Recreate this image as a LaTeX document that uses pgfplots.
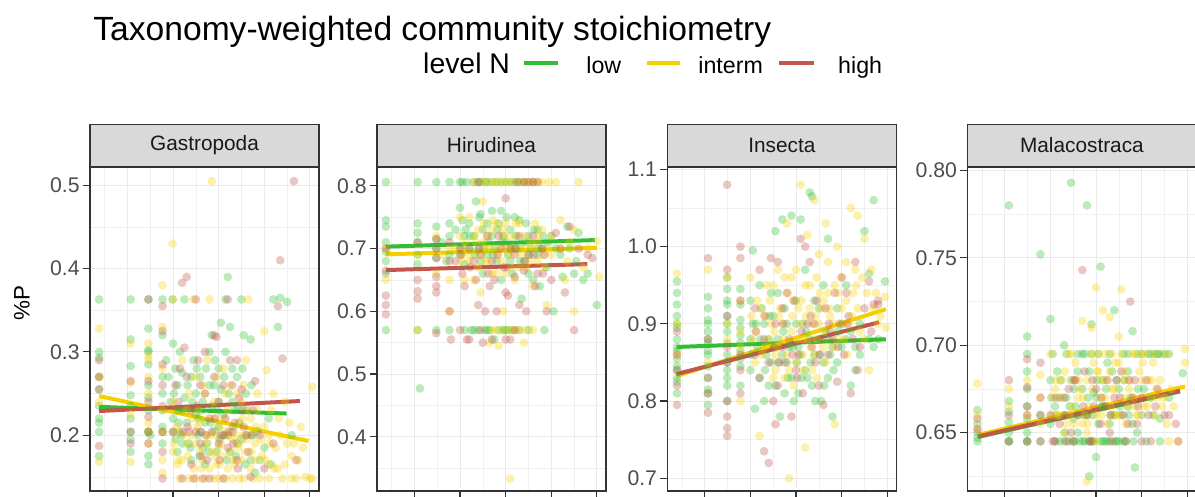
\documentclass[border=0pt]{standalone}
\usepackage{fontspec}
\setmainfont{Liberation Sans}
\usepackage{pgfplots}
\pgfplotsset{compat=1.18}

\definecolor{lowc}{RGB}{50,190,50}
\definecolor{intc}{RGB}{245,208,0}
\definecolor{highc}{RGB}{195,85,75}
\definecolor{stripc}{RGB}{217,217,217}
\definecolor{framec}{RGB}{51,51,51}
\definecolor{tickc}{RGB}{77,77,77}

\pgfplotsset{
  facet/.style={
    scale only axis, width=114.5pt, height=162pt,
    xmin=0.18, xmax=5.2,
    xtick={1,2,3,4,5}, xticklabels={},
    minor xtick={0.5,1.5,2.5,3.5,4.5},
    grid=both,
    major grid style={draw=black!8, line width=0.5pt},
    minor grid style={draw=black!6, line width=0.3pt},
    axis line style={draw=framec, line width=0.7pt},
    tick style={draw=framec, line width=0.6pt},
    major tick length=3.5pt, minor tick length=0pt,
    tick align=outside, xtick pos=bottom, ytick pos=left,
    yticklabel style={font=\fontsize{10.6}{12}\selectfont, text=tickc, inner sep=1.5pt},
    every axis title shift=0pt,
    title style={at={(0.5,1)}, anchor=south, draw=framec, line width=0.7pt,
      fill=stripc, minimum width=114.5pt, minimum height=21pt, inner sep=0pt,
      font=\fontsize{10.4}{12}\selectfont, text=black!90},
  },
  pts/.style={only marks, mark=*, mark size=2.2pt,
    mark options={draw opacity=0, fill=#1, fill opacity=0.33}},
  fit/.style={no marks, #1, line width=2pt},
}

\begin{document}
\begin{tikzpicture}

% ---------------- Gastropoda
\begin{axis}[facet, at={(45pt,3pt)}, anchor=south west, title={Gastropoda},
  ymin=0.133, ymax=0.522, ytick={0.2,0.3,0.4,0.5}, yticklabels={0.2,0.3,0.4,0.5},
  minor ytick={0.15,0.25,0.35,0.45}]
\addplot[pts=lowc] coordinates {
(0.38,0.363)(0.38,0.30)(0.38,0.293)(0.38,0.255)(0.38,0.235)(0.38,0.215)(0.38,0.204)(0.38,0.175)
(1.07,0.363)(1.07,0.315)(1.07,0.283)(1.07,0.248)(1.07,0.22)(1.07,0.204)(1.07,0.195)(1.07,0.18)
(1.46,0.363)(1.46,0.328)(1.46,0.302)(1.46,0.30)(1.46,0.285)(1.46,0.26)(1.46,0.23)(1.46,0.204)(1.46,0.165)
(1.77,0.363)(1.77,0.32)(1.77,0.25)(1.77,0.21)(1.77,0.19)
(1.99,0.363)(2.0,0.31)(2.05,0.28)(2.1,0.26)(2.1,0.23)(2.15,0.204)(2.2,0.19)(2.25,0.363)
(2.4,0.27)(2.5,0.25)(2.55,0.22)(2.6,0.204)(2.65,0.185)(2.7,0.165)(2.8,0.3)(2.85,0.32)
(2.9,0.26)(3.0,0.24)(3.0,0.21)(3.05,0.335)(3.1,0.2)(3.15,0.363)(3.2,0.39)(3.25,0.33)(3.3,0.28)
(3.35,0.23)(3.4,0.19)(3.5,0.363)(3.55,0.32)(3.6,0.25)(3.7,0.315)(3.75,0.2)(3.8,0.155)(3.9,0.17)
(4.1,0.22)(4.2,0.363)(4.3,0.33)(4.35,0.365)(4.5,0.36)(4.6,0.2)
(1.85,0.29)(1.9,0.27)(1.95,0.24)(2.0,0.22)(2.05,0.195)(2.1,0.18)(2.15,0.3)(2.2,0.275)(2.25,0.245)
(2.3,0.215)(2.35,0.19)(2.4,0.17)(2.45,0.29)(2.5,0.225)(2.55,0.2)(2.6,0.27)(2.65,0.24)(2.7,0.215)
(2.75,0.19)(2.8,0.26)(2.85,0.235)(2.9,0.205)(2.95,0.18)(3.0,0.28)(3.05,0.255)(3.1,0.225)(3.15,0.3)
(3.2,0.2)(3.25,0.18)(3.3,0.24)(3.4,0.27)(3.45,0.215)(3.5,0.195)(3.6,0.23)(3.7,0.17)(3.85,0.205)
(4.0,0.185)(4.15,0.165)(1.5,0.2)(1.77,0.23)(1.46,0.245)(1.07,0.235)(0.38,0.22)(0.38,0.27)(1.46,0.175)
(2.02,0.25)(2.12,0.215)(2.22,0.23)(2.32,0.26)(2.42,0.24)(2.52,0.28)(2.62,0.23)(2.72,0.28)(2.82,0.215)
(2.92,0.29)(3.02,0.195)(3.12,0.27)(3.22,0.25)(3.32,0.21)(3.42,0.235)(3.52,0.28)(3.62,0.2)(3.72,0.26)
(2.18,0.2)(2.38,0.185)(2.58,0.175)(2.78,0.18)(2.98,0.23)(3.18,0.17)(3.38,0.175)(3.58,0.165)
(1.77,0.27)(1.46,0.204)(1.77,0.204)(2.0,0.204)
};
\addplot[pts=intc] coordinates {
(0.38,0.328)(0.38,0.27)(0.38,0.24)(0.38,0.168)
(1.07,0.31)(1.07,0.263)(1.07,0.225)(1.07,0.168)
(1.46,0.31)(1.46,0.295)(1.46,0.29)(1.46,0.25)(1.46,0.215)(1.46,0.19)(1.46,0.205)
(1.77,0.38)(1.77,0.33)(1.77,0.28)(1.77,0.204)(1.77,0.17)(1.77,0.155)
(1.99,0.43)(2.0,0.363)(2.0,0.24)(2.05,0.204)(2.1,0.165)(2.2,0.29)(2.3,0.19)(2.35,0.148)
(2.45,0.363)(2.5,0.27)(2.55,0.23)(2.6,0.18)(2.7,0.148)(2.75,0.29)(2.8,0.363)
(2.85,0.505)(2.9,0.22)(2.95,0.2)(3.0,0.185)(3.0,0.148)(3.1,0.28)(3.15,0.25)(3.2,0.16)
(3.3,0.148)(3.35,0.21)(3.4,0.2)(3.45,0.19)(3.5,0.24)(3.55,0.148)(3.6,0.29)(3.65,0.363)
(3.7,0.22)(3.8,0.17)(3.9,0.148)(4.0,0.325)(4.05,0.278)(4.1,0.2)(4.2,0.25)(4.3,0.16)
(4.4,0.148)(4.45,0.24)(4.5,0.19)(4.6,0.175)(4.7,0.148)(4.8,0.21)(4.9,0.15)(5.05,0.258)(5.05,0.148)
(2.0,0.18)(2.1,0.21)(2.2,0.17)(2.3,0.23)(2.4,0.2)(2.45,0.16)(2.5,0.19)(2.6,0.215)(2.65,0.17)
(2.7,0.25)(2.75,0.2)(2.8,0.16)(2.85,0.18)(2.9,0.24)(2.95,0.165)(3.0,0.21)(3.05,0.19)(3.1,0.175)
(3.15,0.205)(3.2,0.23)(3.25,0.18)(3.3,0.195)(3.35,0.165)(3.4,0.25)(3.45,0.215)(3.5,0.17)(3.55,0.2)
(3.6,0.18)(3.65,0.23)(3.7,0.16)(3.75,0.205)(3.8,0.19)(3.85,0.25)(3.95,0.175)(4.0,0.21)(4.1,0.165)
(4.15,0.23)(4.25,0.185)(4.35,0.2)(4.45,0.165)(4.55,0.215)(4.65,0.19)(4.75,0.17)(4.85,0.185)(5.0,0.148)
(1.77,0.23)(1.46,0.27)(2.15,0.148)(2.5,0.148)(2.9,0.148)(3.15,0.148)(3.45,0.148)(3.75,0.148)(4.1,0.148)(4.6,0.148)
(2.02,0.19)(2.12,0.17)(2.22,0.2)(2.32,0.175)(2.42,0.22)(2.52,0.21)(2.62,0.16)(2.72,0.19)(2.82,0.2)
(2.92,0.175)(3.02,0.165)(3.12,0.22)(3.22,0.2)(3.32,0.17)(3.42,0.185)(3.52,0.22)(3.62,0.195)(3.72,0.18)
(3.82,0.21)(3.92,0.195)(4.02,0.17)(4.12,0.19)(4.22,0.16)(4.32,0.22)(2.35,0.25)(2.65,0.26)(2.95,0.27)
(3.25,0.26)(3.55,0.26)(3.85,0.23)
};
\addplot[pts=highc] coordinates {
(0.38,0.29)(0.38,0.27)(0.38,0.255)(0.38,0.187)
(1.07,0.265)(1.07,0.204)(1.07,0.19)
(1.46,0.363)(1.46,0.265)(1.46,0.24)(1.46,0.204)(1.46,0.19)
(1.77,0.355)(1.77,0.325)(1.77,0.285)(1.77,0.26)(1.77,0.204)(1.77,0.18)(1.77,0.148)
(2.2,0.383)(2.3,0.39)(2.25,0.305)(2.3,0.27)(2.35,0.204)(2.4,0.165)(2.5,0.363)
(2.55,0.29)(2.6,0.26)(2.65,0.148)(2.7,0.3)(2.8,0.22)(2.9,0.32)(2.95,0.318)(3.0,0.24)
(3.05,0.2)(3.1,0.148)(3.2,0.363)(3.25,0.29)(3.3,0.26)(3.35,0.215)(3.4,0.17)
(3.5,0.255)(3.6,0.2)(3.7,0.15)(3.8,0.265)(4.3,0.355)(4.35,0.41)(4.4,0.292)(4.65,0.505)(4.7,0.17)
(2.0,0.204)(2.05,0.26)(2.15,0.28)(2.4,0.23)(2.5,0.204)(2.6,0.19)(2.7,0.25)(2.75,0.17)(2.85,0.204)
(2.9,0.27)(3.0,0.19)(3.1,0.26)(3.15,0.22)(3.2,0.185)(3.3,0.204)(3.4,0.29)(3.45,0.245)(3.55,0.21)
(3.65,0.18)(3.75,0.23)(3.9,0.2)(4.0,0.16)(4.2,0.19)(1.46,0.222)(1.77,0.235)(2.2,0.148)(2.45,0.148)(2.8,0.148)
(2.12,0.24)(2.32,0.21)(2.52,0.235)(2.72,0.2)(2.92,0.22)(3.12,0.2)(3.32,0.19)(3.52,0.23)(3.72,0.2)
(2.62,0.175)(3.02,0.17)(3.42,0.16)(2.22,0.204)(2.62,0.204)(3.22,0.204)
};
\addplot[fit=lowc] coordinates {(0.38,0.234)(4.49,0.226)};
\addplot[fit=intc] coordinates {(0.38,0.247)(4.97,0.193)};
\addplot[fit=highc] coordinates {(0.38,0.229)(4.78,0.241)};
\end{axis}

% ---------------- Hirudinea
\begin{axis}[facet, at={(188.5pt,3pt)}, anchor=south west, title={Hirudinea},
  ymin=0.3135, ymax=0.83, ytick={0.4,0.5,0.6,0.7,0.8}, yticklabels={0.4,0.5,0.6,0.7,0.8},
  minor ytick={0.35,0.45,0.55,0.65,0.75}]
\addplot[pts=lowc] coordinates {
(0.375,0.806)(0.375,0.745)(0.375,0.735)(0.375,0.71)(0.375,0.695)(0.375,0.68)(0.375,0.66)(0.375,0.57)
(1.07,0.806)(1.07,0.74)(1.07,0.725)(1.07,0.71)(1.07,0.69)(1.07,0.675)(1.07,0.57)(1.12,0.477)
(1.48,0.806)(1.48,0.735)(1.48,0.715)(1.48,0.70)(1.48,0.685)(1.48,0.57)
(1.77,0.806)(1.77,0.74)(1.77,0.72)(1.77,0.69)(1.77,0.57)
(2.0,0.806)(2.0,0.765)(2.05,0.745)(2.1,0.72)(2.15,0.806)(2.2,0.7)(2.25,0.57)
(2.35,0.775)(2.4,0.806)(2.45,0.755)(2.5,0.73)(2.55,0.806)(2.6,0.69)(2.65,0.57)(2.7,0.76)
(2.75,0.555)(2.8,0.806)(2.85,0.74)(2.9,0.65)(2.95,0.72)(3.0,0.806)(3.05,0.57)(3.1,0.68)
(3.2,0.75)(3.3,0.7)(3.35,0.62)(3.45,0.74)(3.5,0.66)(3.6,0.806)(3.7,0.69)(3.75,0.64)
(3.85,0.57)(4.0,0.72)(4.05,0.6)(4.2,0.69)(4.35,0.735)(4.5,0.66)(4.6,0.725)(4.7,0.65)(5.0,0.61)
(1.6,0.71)(1.7,0.68)(1.9,0.73)(2.0,0.69)(2.1,0.675)(2.2,0.74)(2.3,0.72)(2.4,0.7)(2.45,0.68)
(2.5,0.66)(2.6,0.74)(2.7,0.72)(2.75,0.7)(2.8,0.68)(2.9,0.76)(3.0,0.71)(3.05,0.69)(3.1,0.73)
(3.15,0.66)(3.2,0.7)(3.3,0.745)(3.4,0.68)(3.5,0.72)(3.55,0.7)(3.6,0.65)(3.7,0.73)(3.8,0.7)
(3.9,0.67)(4.1,0.7)(4.25,0.655)(4.4,0.7)(4.55,0.68)(4.8,0.66)(2.3,0.806)(2.6,0.806)(2.9,0.806)
(3.2,0.806)(3.4,0.806)(2.4,0.57)(2.55,0.57)(2.85,0.57)(3.0,0.57)(3.3,0.57)(3.5,0.57)
(2.02,0.7)(2.12,0.73)(2.22,0.72)(2.32,0.69)(2.42,0.75)(2.52,0.7)(2.62,0.71)(2.72,0.69)(2.82,0.73)
(2.92,0.71)(3.02,0.75)(3.12,0.7)(3.22,0.72)(3.32,0.68)(3.42,0.71)(3.52,0.69)(3.62,0.73)(3.72,0.7)
(3.82,0.72)(3.92,0.71)(2.05,0.806)(2.45,0.806)(2.7,0.806)(3.1,0.806)(3.3,0.806)(2.1,0.57)(2.3,0.57)
(2.6,0.57)(2.95,0.57)(3.15,0.57)
};
\addplot[pts=intc] coordinates {
(0.375,0.7)(0.375,0.65)(1.07,0.57)(1.07,0.69)(1.48,0.72)(1.48,0.66)(1.77,0.7)(1.77,0.65)(1.77,0.6)
(2.0,0.72)(2.05,0.69)(2.1,0.65)(2.2,0.75)(2.3,0.806)(2.35,0.71)(2.4,0.67)(2.45,0.63)(2.5,0.775)
(2.55,0.7)(2.6,0.68)(2.65,0.55)(2.7,0.73)(2.75,0.806)(2.8,0.66)(2.85,0.545)(2.9,0.7)
(2.95,0.6)(3.0,0.74)(3.05,0.806)(3.1,0.69)(3.2,0.57)(3.25,0.72)(3.3,0.67)(3.4,0.55)(3.45,0.7)
(3.5,0.806)(3.6,0.64)(3.65,0.74)(3.7,0.71)(3.85,0.67)(3.9,0.61)(4.0,0.69)(4.1,0.806)(4.2,0.745)
(4.3,0.65)(4.4,0.71)(4.5,0.6)(4.6,0.806)(4.8,0.7)(5.0,0.712)(5.05,0.655)(3.1,0.333)
(1.6,0.69)(1.9,0.7)(2.0,0.75)(2.1,0.7)(2.2,0.68)(2.3,0.65)(2.4,0.73)(2.5,0.71)(2.55,0.68)
(2.6,0.72)(2.7,0.66)(2.75,0.7)(2.8,0.74)(2.9,0.68)(2.95,0.72)(3.0,0.66)(3.1,0.72)(3.15,0.7)
(3.2,0.65)(3.3,0.74)(3.35,0.69)(3.45,0.67)(3.55,0.71)(3.7,0.68)(3.8,0.73)(4.0,0.72)(4.2,0.7)
(4.35,0.68)(4.5,0.73)(4.7,0.67)(2.5,0.806)(2.8,0.806)(3.3,0.806)(3.8,0.806)(2.7,0.57)(2.95,0.57)
(3.3,0.57)(3.6,0.57)
(2.02,0.68)(2.12,0.71)(2.22,0.69)(2.32,0.72)(2.42,0.69)(2.52,0.74)(2.62,0.7)(2.72,0.745)(2.82,0.69)
(2.92,0.73)(3.02,0.7)(3.12,0.67)(3.22,0.74)(3.32,0.7)(3.42,0.72)(3.52,0.68)(3.62,0.7)(3.72,0.72)
(3.82,0.69)(3.92,0.7)(2.6,0.806)(2.95,0.806)(3.15,0.806)(3.45,0.806)(3.6,0.806)(3.7,0.806)(3.95,0.806)
(2.8,0.57)(3.1,0.57)(3.45,0.57)
};
\addplot[pts=highc] coordinates {
(0.375,0.665)(0.375,0.625)(0.375,0.61)(0.375,0.595)(0.375,0.7)
(1.07,0.71)(1.07,0.65)(1.07,0.632)(1.07,0.62)
(1.48,0.715)(1.48,0.7)(1.48,0.685)(1.48,0.655)(1.48,0.64)(1.48,0.63)(1.48,0.565)
(1.77,0.71)(1.77,0.68)(1.77,0.6)(1.8,0.555)
(2.0,0.7)(2.1,0.64)(2.15,0.555)(2.3,0.68)(2.4,0.61)(2.5,0.55)(2.6,0.72)(2.65,0.64)
(2.8,0.6)(2.9,0.7)(3.0,0.78)(3.05,0.625)(3.1,0.555)(3.2,0.69)(3.3,0.61)(3.4,0.665)
(3.6,0.72)(3.65,0.64)(3.7,0.806)(3.8,0.7)(3.9,0.6)(4.1,0.725)(4.3,0.63)(4.4,0.735)(4.5,0.57)
(4.8,0.69)(4.9,0.685)
(1.9,0.68)(2.05,0.66)(2.2,0.7)(2.35,0.65)(2.45,0.69)(2.55,0.6)(2.7,0.68)(2.75,0.65)(2.85,0.72)
(2.95,0.67)(3.0,0.63)(3.1,0.7)(3.2,0.655)(3.3,0.72)(3.45,0.6)(3.5,0.69)(3.7,0.66)(3.85,0.69)
(4.0,0.65)(4.2,0.7)(4.6,0.7)(2.0,0.57)(2.2,0.555)(2.7,0.555)(3.2,0.57)(3.4,0.806)(3.5,0.806)
(2.02,0.69)(2.22,0.67)(2.42,0.7)(2.62,0.66)(2.82,0.69)(3.02,0.67)(3.22,0.7)(3.42,0.68)(3.62,0.69)
(3.82,0.66)(2.4,0.806)(3.25,0.806)(3.6,0.806)(2.45,0.57)(3.0,0.555)
};
\addplot[fit=lowc] coordinates {(0.375,0.703)(4.96,0.7135)};
\addplot[fit=intc] coordinates {(0.375,0.6907)(5.0,0.7012)};
\addplot[fit=highc] coordinates {(0.375,0.6657)(4.79,0.6752)};
\end{axis}

% ---------------- Insecta
\begin{axis}[facet, at={(333.7pt,3pt)}, anchor=south west, title={Insecta},
  ymin=0.6836, ymax=1.103, ytick={0.7,0.8,0.9,1.0,1.1}, yticklabels={0.7,0.8,0.9,1.0,1.1},
  minor ytick={0.75,0.85,0.95,1.05}]
\addplot[pts=lowc] coordinates {
(0.39,0.955)(0.39,0.94)(0.39,0.925)(0.39,0.91)(0.39,0.895)(0.39,0.88)(0.39,0.87)(0.39,0.855)(0.39,0.84)(0.39,0.825)(0.39,0.81)
(1.07,0.935)(1.07,0.92)(1.07,0.905)(1.07,0.89)(1.07,0.875)(1.07,0.86)(1.07,0.845)(1.07,0.83)(1.07,0.815)(1.07,0.795)
(1.49,0.96)(1.49,0.945)(1.49,0.925)(1.49,0.91)(1.49,0.89)(1.49,0.875)(1.49,0.86)(1.49,0.84)(1.49,0.82)(1.49,0.80)
(1.78,0.945)(1.78,0.925)(1.78,0.905)(1.78,0.885)(1.78,0.865)(1.78,0.845)(1.78,0.82)
(2.0,0.93)(2.0,0.88)(2.0,0.84)(2.05,0.995)(2.1,0.79)(2.2,0.95)(2.3,0.9)(2.35,0.86)(2.4,0.82)
(2.45,0.94)(2.55,1.02)(2.6,0.88)(2.65,0.78)(2.7,1.035)(2.75,0.92)(2.8,0.85)(2.9,1.04)(2.95,0.8)
(3.0,0.9)(3.05,0.87)(3.1,1.035)(3.2,0.97)(3.25,0.83)(3.3,1.07)(3.35,1.065)(3.4,0.93)(3.5,0.88)
(3.55,0.8)(3.6,0.95)(3.7,1.01)(3.75,0.86)(3.8,0.78)(3.9,0.92)(4.0,0.87)(4.1,0.95)(4.2,0.89)
(4.3,0.84)(4.4,0.9)(4.5,1.02)(4.6,0.965)(4.7,1.06)(4.8,0.88)(4.95,0.955)
(2.05,0.9)(2.15,0.87)(2.2,0.83)(2.25,0.92)(2.3,0.8)(2.4,0.88)(2.45,0.85)(2.5,0.91)(2.55,0.82)
(2.6,0.94)(2.7,0.86)(2.75,0.81)(2.8,0.9)(2.85,0.87)(2.9,0.83)(3.0,0.93)(3.05,0.81)(3.1,0.86)
(3.15,0.9)(3.2,0.84)(3.3,0.88)(3.35,0.82)(3.4,0.86)(3.5,0.92)(3.6,0.85)(3.65,0.89)(3.7,0.83)
(3.8,0.87)(3.9,0.85)(4.0,0.9)(4.1,0.88)(4.2,0.82)(4.3,0.87)(4.4,0.86)(4.6,0.88)(4.7,0.87)
(1.07,0.9)(1.49,0.93)(1.78,0.895)(0.39,0.9)(0.39,0.83)
(2.02,0.86)(2.12,0.9)(2.22,0.88)(2.32,0.84)(2.42,0.91)(2.52,0.87)(2.62,0.85)(2.72,0.89)(2.82,0.83)
(2.92,0.87)(3.02,0.85)(3.12,0.83)(3.22,0.89)(3.32,0.85)(3.42,0.8)(3.52,0.86)(3.62,0.82)(3.72,0.88)
(3.82,0.84)(3.92,0.89)(0.39,0.865)(0.39,0.845)(1.07,0.88)(1.07,0.865)(1.49,0.85)(1.49,0.9)(1.78,0.875)
(1.78,0.855)(1.07,0.81)(1.49,0.83)
};
\addplot[pts=intc] coordinates {
(0.39,0.965)(0.39,0.9)(0.39,0.86)(1.07,0.97)(1.07,0.85)(1.49,0.96)(1.49,0.88)(1.78,0.93)(1.78,0.87)(1.78,0.8)
(2.0,0.96)(2.1,0.85)(2.2,0.755)(2.3,0.91)(2.4,0.88)(2.5,0.95)(2.55,0.84)(2.6,0.97)(2.7,0.9)
(2.75,0.83)(2.8,1.03)(2.85,0.7)(2.9,0.96)(3.0,0.85)(3.05,0.92)(3.1,1.08)(3.15,0.88)(3.2,0.74)
(3.25,1.015)(3.3,0.95)(3.35,0.9)(3.4,1.06)(3.45,0.83)(3.5,0.99)(3.55,0.92)(3.6,0.87)(3.65,1.03)
(3.7,0.94)(3.8,0.9)(3.85,0.77)(3.9,1.0)(4.0,0.96)(4.05,0.88)(4.1,0.93)(4.2,1.05)(4.3,0.97)
(4.35,1.04)(4.4,0.89)(4.5,1.01)(4.55,0.94)(4.6,0.84)(4.7,0.92)(4.8,0.9)(4.95,0.935)(4.97,0.895)
(2.05,0.88)(2.15,0.93)(2.25,0.86)(2.35,0.95)(2.45,0.9)(2.5,0.83)(2.6,0.87)(2.65,0.92)(2.75,0.96)
(2.8,0.86)(2.9,0.89)(2.95,0.93)(3.0,0.97)(3.1,0.9)(3.15,0.84)(3.2,0.95)(3.25,0.88)(3.3,0.92)
(3.4,0.86)(3.45,0.96)(3.5,0.9)(3.6,0.93)(3.65,0.85)(3.7,0.98)(3.75,0.91)(3.85,0.95)(3.9,0.88)
(4.0,0.92)(4.1,0.98)(4.15,0.9)(4.25,0.94)(4.35,0.92)(4.45,0.96)(4.5,0.88)(4.65,0.97)(4.75,0.94)
(4.85,0.91)(1.49,0.9)(1.78,0.89)
(2.02,0.91)(2.12,0.89)(2.22,0.92)(2.32,0.87)(2.42,0.93)(2.52,0.89)(2.62,0.91)(2.72,0.88)(2.82,0.94)
(2.92,0.91)(3.02,0.88)(3.12,0.93)(3.22,0.91)(3.32,0.87)(3.42,0.91)(3.52,0.94)(3.62,0.89)(3.72,0.92)
(3.82,0.87)(3.92,0.94)(4.02,0.9)(4.12,0.86)(4.22,0.91)(4.32,0.95)(2.55,0.86)(2.85,0.84)(3.15,0.86)
(3.45,0.88)(2.95,0.82)(3.35,0.84)
};
\addplot[pts=highc] coordinates {
(0.39,0.89)(0.39,0.86)(0.39,0.82)(0.39,0.795)(1.07,0.985)(1.07,0.88)(1.07,0.83)(1.07,0.785)
(1.49,1.08)(1.49,0.97)(1.49,0.91)(1.49,0.85)(1.49,0.8)(1.49,0.78)(1.49,0.765)(1.49,0.755)
(1.78,1.0)(1.78,0.985)(1.78,0.93)(1.78,0.84)(1.78,0.81)
(2.1,0.92)(2.2,0.97)(2.3,0.735)(2.4,0.72)(2.45,0.985)(2.5,0.8)(2.55,0.77)(2.6,0.98)(2.7,0.87)
(2.8,0.94)(2.9,0.78)(3.0,0.84)(3.1,1.01)(3.2,1.0)(3.3,0.98)(3.4,0.9)(3.5,0.82)(3.6,0.795)
(3.7,0.86)(3.8,0.88)(3.9,0.825)(4.0,0.96)(4.1,0.94)(4.2,0.81)(4.3,0.98)(4.4,0.87)(4.6,0.955)
(4.7,0.925)(4.8,0.93)
(2.1,0.86)(2.2,0.83)(2.3,0.88)(2.4,0.85)(2.55,0.9)(2.6,0.82)(2.7,0.92)(2.75,0.85)(2.85,0.88)
(2.95,0.93)(3.05,0.86)(3.15,0.81)(3.25,0.9)(3.35,0.87)(3.45,0.93)(3.55,0.88)(3.65,0.92)(3.75,0.89)
(3.85,0.94)(3.95,0.9)(4.05,0.86)(4.15,0.91)(4.25,0.88)(4.35,0.84)(4.5,0.92)(4.65,0.89)(4.8,0.925)
(1.49,0.87)(1.78,0.86)(1.07,0.81)
(2.12,0.89)(2.32,0.91)(2.52,0.87)(2.72,0.9)(2.92,0.86)(3.12,0.89)(3.32,0.91)(3.52,0.86)(3.72,0.9)
(3.92,0.87)(4.12,0.9)(2.62,0.85)(3.02,0.83)(3.42,0.85)(0.39,0.84)
};
\addplot[fit=lowc] coordinates {(0.38,0.870)(4.97,0.880)};
\addplot[fit=intc] coordinates {(0.38,0.8324)(4.97,0.919)};
\addplot[fit=highc] coordinates {(0.38,0.835)(4.82,0.902)};
\end{axis}

% ---------------- Malacostraca
\begin{axis}[facet, at={(483.7pt,3pt)}, anchor=south west, title={Malacostraca},
  ymin=0.6166, ymax=0.802, ytick={0.65,0.70,0.75,0.80}, yticklabels={0.65,0.70,0.75,0.80},
  minor ytick={0.625,0.675,0.725,0.775}]
\addplot[pts=lowc] coordinates {
(0.40,0.663)(0.40,0.655)(0.40,0.65)(0.40,0.645)
(1.09,0.668)(1.09,0.662)(1.09,0.656)(1.09,0.65)(1.09,0.645)(1.09,0.78)
(1.49,0.705)(1.49,0.695)(1.49,0.685)(1.49,0.675)(1.49,0.665)(1.49,0.658)(1.49,0.65)(1.49,0.645)
(1.78,0.752)(1.78,0.66)(1.78,0.645)
(2.0,0.715)(2.0,0.68)(2.05,0.695)(2.1,0.665)(2.2,0.645)(2.3,0.7)(2.35,0.67)(2.45,0.793)
(2.5,0.658)(2.55,0.645)(2.6,0.685)(2.7,0.695)(2.75,0.66)(2.8,0.78)(2.85,0.645)(2.9,0.712)
(2.95,0.673)(3.0,0.636)(3.05,0.695)(3.1,0.745)(3.15,0.665)(3.2,0.645)(3.25,0.69)(3.3,0.655)
(3.4,0.72)(3.45,0.68)(3.5,0.645)(3.6,0.695)(3.7,0.665)(3.8,0.708)(3.85,0.63)(3.9,0.65)(4.0,0.695)
(4.1,0.645)(4.2,0.67)(4.3,0.695)(4.4,0.658)(4.5,0.695)(4.9,0.684)(2.85,0.625)
(2.0,0.655)(2.1,0.645)(2.15,0.685)(2.2,0.67)(2.3,0.66)(2.4,0.645)(2.45,0.68)(2.55,0.665)(2.6,0.65)
(2.65,0.645)(2.7,0.675)(2.8,0.66)(2.85,0.685)(2.9,0.645)(3.0,0.67)(3.05,0.655)(3.1,0.645)(3.15,0.68)
(3.2,0.665)(3.3,0.645)(3.35,0.685)(3.4,0.66)(3.5,0.675)(3.55,0.66)(3.6,0.645)(3.7,0.685)(3.75,0.67)
(3.8,0.655)(3.9,0.695)(4.0,0.66)(4.05,0.675)(4.2,0.695)(4.25,0.66)(4.35,0.695)(4.4,0.645)(4.6,0.67)
(2.6,0.695)(2.9,0.695)(3.3,0.695)(3.7,0.695)(4.15,0.695)(4.4,0.695)(4.6,0.695)(1.09,0.645)(0.40,0.647)(1.49,0.645)
(2.02,0.67)(2.12,0.66)(2.22,0.68)(2.32,0.65)(2.42,0.665)(2.52,0.675)(2.62,0.66)(2.72,0.645)(2.82,0.67)
(2.92,0.66)(3.02,0.68)(3.12,0.665)(3.22,0.675)(3.32,0.66)(3.42,0.645)(3.52,0.665)(3.62,0.68)(3.72,0.66)
(3.82,0.645)(3.92,0.675)(2.3,0.645)(2.5,0.645)(2.75,0.645)(2.95,0.645)(3.15,0.645)(3.25,0.645)
(3.45,0.645)(3.65,0.645)(2.35,0.695)(2.75,0.695)
};
\addplot[pts=intc] coordinates {
(0.40,0.678)(0.40,0.66)(0.40,0.652)(1.09,0.675)(1.09,0.665)(1.49,0.68)(1.49,0.66)(1.78,0.683)(1.78,0.67)(1.78,0.655)
(2.0,0.695)(2.1,0.675)(2.2,0.66)(2.3,0.65)(2.4,0.695)(2.5,0.68)(2.6,0.67)(2.7,0.714)(2.75,0.66)
(2.8,0.65)(2.9,0.71)(3.0,0.733)(3.05,0.685)(3.1,0.67)(3.15,0.72)(3.2,0.695)(3.3,0.716)(3.35,0.675)
(3.4,0.66)(3.5,0.705)(3.55,0.732)(3.6,0.68)(3.7,0.665)(3.8,0.695)(3.9,0.66)(4.0,0.68)
(4.1,0.695)(4.2,0.67)(4.3,0.66)(4.4,0.68)(4.5,0.67)(4.6,0.645)(4.7,0.665)(4.95,0.698)(4.95,0.69)(2.8,0.622)
(2.05,0.67)(2.15,0.66)(2.25,0.68)(2.35,0.655)(2.45,0.665)(2.55,0.69)(2.65,0.675)(2.7,0.655)(2.8,0.68)
(2.85,0.665)(2.95,0.69)(3.0,0.66)(3.1,0.68)(3.2,0.67)(3.25,0.655)(3.3,0.685)(3.4,0.675)(3.45,0.66)
(3.5,0.69)(3.6,0.67)(3.65,0.655)(3.75,0.68)(3.85,0.665)(3.95,0.685)(4.05,0.665)(4.15,0.68)(4.25,0.69)
(4.35,0.67)(4.45,0.665)(4.55,0.655)(4.65,0.675)(4.8,0.645)(2.9,0.695)(3.35,0.695)(3.85,0.695)(4.3,0.695)
(2.02,0.66)(2.12,0.68)(2.22,0.67)(2.32,0.685)(2.42,0.66)(2.52,0.655)(2.62,0.68)(2.72,0.67)(2.82,0.655)
(2.92,0.675)(3.02,0.685)(3.12,0.66)(3.22,0.68)(3.32,0.665)(3.42,0.69)(3.52,0.66)(3.62,0.685)(3.72,0.675)
(3.82,0.67)(3.92,0.66)(4.02,0.69)(4.12,0.665)(4.22,0.68)(4.32,0.675)(2.45,0.695)(3.05,0.695)(3.55,0.695)
(4.0,0.695)(4.55,0.695)(3.0,0.645)
};
\addplot[pts=highc] coordinates {
(0.40,0.658)(0.40,0.652)(1.09,0.68)(1.09,0.66)(1.09,0.645)(1.49,0.692)(1.49,0.676)(1.49,0.66)(1.49,0.645)
(1.78,0.69)(1.78,0.67)(1.78,0.645)(2.0,0.66)(2.1,0.645)(2.3,0.67)(2.45,0.65)(2.55,0.68)(2.7,0.743)
(2.8,0.66)(2.9,0.645)(3.0,0.675)(3.2,0.665)(3.3,0.65)(3.45,0.68)(3.6,0.66)(3.75,0.725)(3.8,0.67)
(3.9,0.655)(4.1,0.68)(4.2,0.645)(4.3,0.665)(4.6,0.66)(4.75,0.655)(4.8,0.645)
(2.2,0.655)(2.4,0.675)(2.6,0.66)(2.75,0.685)(2.95,0.665)(3.1,0.655)(3.25,0.68)(3.4,0.67)(3.55,0.685)
(3.7,0.655)(3.85,0.68)(4.0,0.67)(4.15,0.66)(4.35,0.675)(4.5,0.66)(1.49,0.665)(1.78,0.66)(2.05,0.645)(2.5,0.645)
(2.12,0.67)(2.32,0.66)(2.52,0.68)(2.72,0.665)(2.92,0.68)(3.12,0.67)(3.32,0.66)(3.52,0.67)(3.72,0.68)
(3.92,0.665)(2.35,0.645)(2.85,0.645)(3.35,0.645)(3.65,0.645)(4.0,0.645)
};
\addplot[fit=lowc] coordinates {(0.41,0.6475)(4.84,0.6735)};
\addplot[fit=intc] coordinates {(0.41,0.6487)(4.95,0.6764)};
\addplot[fit=highc] coordinates {(0.41,0.6478)(4.84,0.674)};
\end{axis}

% y label, title and legend
\node[rotate=90, font=\fontsize{11.2}{13}\selectfont] at (11pt,97pt) {\%P};
\node[anchor=base west, inner sep=0pt, font=\fontsize{16.8}{20}\selectfont] at (46.5pt,228pt)
  {Taxonomy-weighted community stoichiometry};
\node[anchor=base west, inner sep=0pt, font=\fontsize{14.2}{16}\selectfont] at (211.4pt,211.9pt) {level N};
\draw[lowc, line width=2.3pt] (262pt,216.9pt) -- (279pt,216.9pt);
\node[anchor=base west, inner sep=0pt, font=\fontsize{11.6}{14}\selectfont] at (293pt,211.9pt) {low};
\draw[intc, line width=2.3pt] (323.3pt,216.9pt) -- (340pt,216.9pt);
\node[anchor=base west, inner sep=0pt, font=\fontsize{11.6}{14}\selectfont] at (349pt,211.9pt) {interm};
\draw[highc, line width=2.3pt] (389.5pt,216.9pt) -- (407pt,216.9pt);
\node[anchor=base west, inner sep=0pt, font=\fontsize{11.6}{14}\selectfont] at (418.9pt,211.9pt) {high};

\pgfresetboundingbox
\useasboundingbox (0,0) rectangle (597.5pt,248.5pt);
\end{tikzpicture}
\end{document}
